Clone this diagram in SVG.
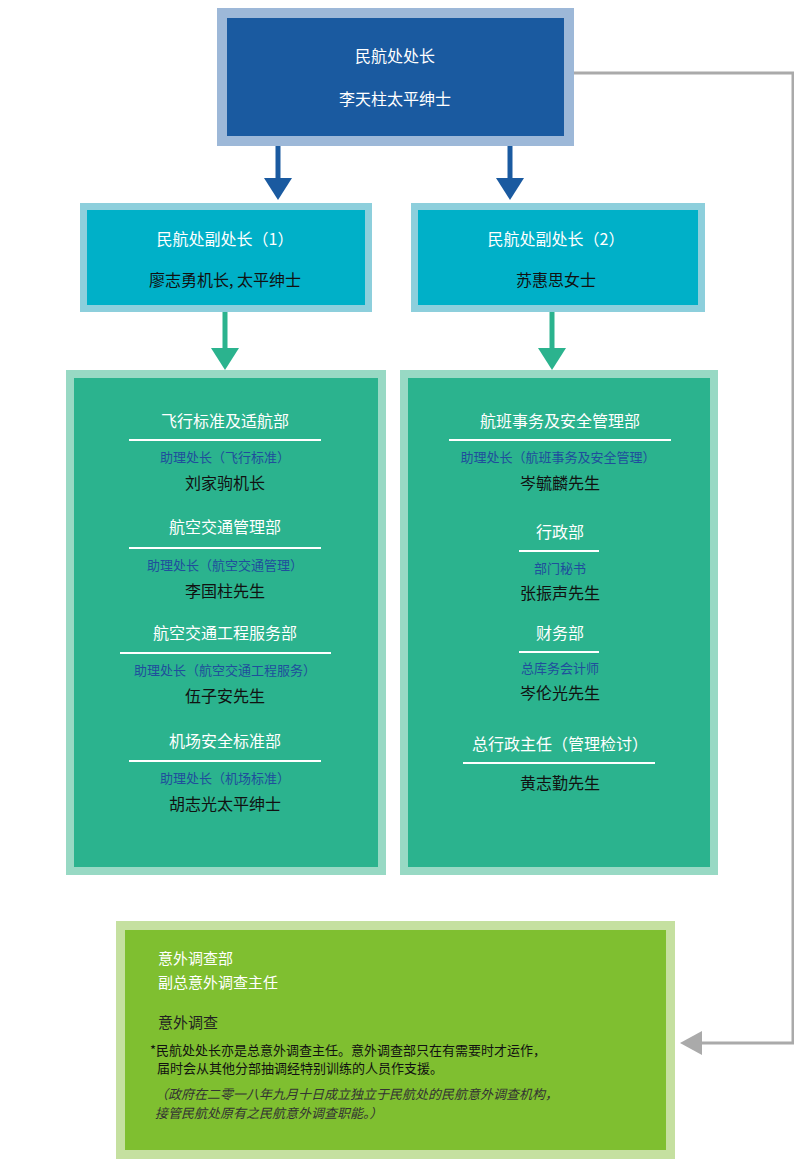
<svg xmlns="http://www.w3.org/2000/svg" width="794" height="1167" viewBox="0 0 794 1167">
<style>
text{font-family:"Noto Sans CJK SC","Noto Sans",sans-serif;}
.w{fill:#fff;font-size:16px;text-anchor:middle}
.k{fill:#111;font-size:16px;text-anchor:middle}
.b{fill:#1f4e9c;font-size:13px;text-anchor:middle}
.ln{stroke:#fff;stroke-width:2}
</style>
<defs>
<marker id="ab" markerWidth="8" markerHeight="8" refX="4" refY="0" orient="auto" markerUnits="userSpaceOnUse"/>
</defs>
<rect width="794" height="1167" fill="#fff"/>
<g id="connectors">
<path d="M574,73H793V1043H700" fill="none" stroke="#aaa" stroke-width="3"/>
<polygon points="680,1043 702,1031 702,1055" fill="#aaa"/>
<line x1="278" y1="136" x2="278" y2="180" stroke="#1a5aa0" stroke-width="5"/>
<polygon points="264,178 292,178 278,200" fill="#1a5aa0"/>
<line x1="510" y1="136" x2="510" y2="180" stroke="#1a5aa0" stroke-width="5"/>
<polygon points="496,178 524,178 510,200" fill="#1a5aa0"/>
<line x1="225" y1="312" x2="225" y2="350" stroke="#2bb38e" stroke-width="5"/>
<polygon points="211,348 239,348 225,370" fill="#2bb38e"/>
<line x1="552" y1="312" x2="552" y2="350" stroke="#2bb38e" stroke-width="5"/>
<polygon points="538,348 566,348 552,370" fill="#2bb38e"/>
</g>
<g id="director">
<rect x="222" y="13" width="347" height="128" fill="#1a5aa0" stroke="#9db8d8" stroke-width="10"/>
<text class="w" x="395" y="62" font-size="20">民航处处长</text>
<text class="w" x="395" y="105" font-size="17">李天柱太平绅士</text>
</g>
<g id="deputy1">
<rect x="83.500" y="206.500" width="285" height="102" fill="#00b0c8" stroke="#8dcfdc" stroke-width="7"/>
<text class="w" x="225" y="245" font-size="17">民航处副处长（1）</text>
<text class="k" x="225" y="286">廖志勇机长, 太平绅士</text>
</g>
<g id="deputy2">
<rect x="414.500" y="206.500" width="287" height="102" fill="#00b0c8" stroke="#8dcfdc" stroke-width="7"/>
<text class="w" x="556" y="245" font-size="17">民航处副处长（2）</text>
<text class="k" x="556" y="286">苏惠思女士</text>
</g>
<g id="left-depts">
<rect x="70" y="374" width="312" height="497" fill="#2bb38e" stroke="#98d9c4" stroke-width="8"/>
<text class="w" x="225" y="427">飞行标准及适航部</text>
<line class="ln" x1="129" y1="440" x2="321" y2="440"/>
<text class="b" x="225" y="462">助理处长（飞行标准）</text>
<text class="k" x="225" y="489">刘家驹机长</text>
<text class="w" x="225" y="533">航空交通管理部</text>
<line class="ln" x1="129" y1="548" x2="321" y2="548"/>
<text class="b" x="225" y="570">助理处长（航空交通管理）</text>
<text class="k" x="225" y="597">李国柱先生</text>
<text class="w" x="225" y="639">航空交通工程服务部</text>
<line class="ln" x1="120" y1="653" x2="331" y2="653"/>
<text class="b" x="225" y="675">助理处长（航空交通工程服务）</text>
<text class="k" x="225" y="702">伍子安先生</text>
<text class="w" x="225" y="747">机场安全标准部</text>
<line class="ln" x1="129" y1="761" x2="321" y2="761"/>
<text class="b" x="225" y="783">助理处长（机场标准）</text>
<text class="k" x="225" y="810">胡志光太平绅士</text>
</g>
<g id="right-depts">
<rect x="404" y="374" width="310" height="497" fill="#2bb38e" stroke="#98d9c4" stroke-width="8"/>
<text class="w" x="560" y="427">航班事务及安全管理部</text>
<line class="ln" x1="449" y1="440" x2="671" y2="440"/>
<text class="b" x="558" y="462">助理处长（航班事务及安全管理）</text>
<text class="k" x="560" y="489">岑毓麟先生</text>
<text class="w" x="560" y="538">行政部</text>
<line class="ln" x1="519" y1="551" x2="599" y2="551"/>
<text class="b" x="560" y="573">部门秘书</text>
<text class="k" x="560" y="599">张振声先生</text>
<text class="w" x="560" y="639">财务部</text>
<line class="ln" x1="519" y1="652" x2="599" y2="652"/>
<text class="b" x="560" y="673">总库务会计师</text>
<text class="k" x="560" y="699">岑伦光先生</text>
<text class="w" x="560" y="750">总行政主任（管理检讨）</text>
<line class="ln" x1="463" y1="763" x2="655" y2="763"/>
<text class="k" x="560" y="789">黄志勤先生</text>
</g>
<g id="accident">
<rect x="120.500" y="925.500" width="550" height="229" fill="#7fbf30" stroke="#c5e0a0" stroke-width="9"/>
<text x="158" y="964" fill="#fff" font-size="15">意外调查部</text>
<text x="158" y="988" fill="#fff" font-size="15">副总意外调查主任</text>
<text x="158" y="1028" fill="#222" font-size="15">意外调查</text>
<text x="150" y="1055" fill="#111" font-size="13">*民航处处长亦是总意外调查主任。意外调查部只在有需要时才运作，</text>
<text x="157" y="1073" fill="#111" font-size="13">届时会从其他分部抽调经特别训练的人员作支援。</text>
<text x="155" y="1099" fill="#333" font-size="13" font-style="italic">（政府在二零一八年九月十日成立独立于民航处的民航意外调查机构，</text>
<text x="155" y="1118" fill="#333" font-size="13" font-style="italic">接管民航处原有之民航意外调查职能。）</text>
</g>
</svg>
